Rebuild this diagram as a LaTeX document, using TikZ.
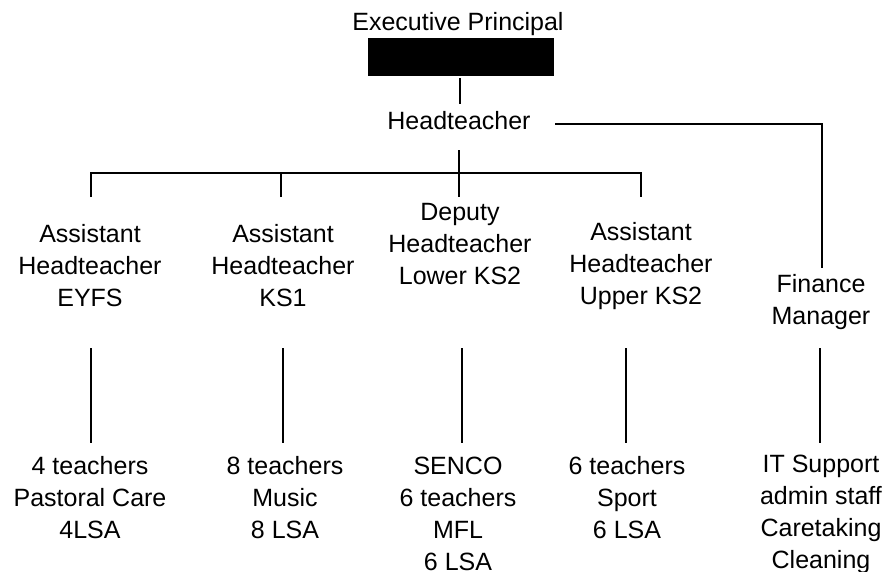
\documentclass[tikz,border=0pt]{standalone}
\usepackage{fontspec}
\setmainfont{Liberation Sans}
\begin{document}
\begin{tikzpicture}[x=1pt,y=-1pt,
  lbl/.style={align=center,inner sep=0pt,font=\fontsize{25}{32}\selectfont},
  conn/.style={line width=1.6pt,black}]
\useasboundingbox[fill=white] (0,0) rectangle (892,571);
% nodes
\node[lbl] (ep) at (458,24) {Executive Principal};
\node[fill=black,inner sep=0pt,minimum width=186pt,minimum height=38pt] (red) at (461,57) {};
\node[lbl] (ht) at (459,121) {Headteacher};
\node[lbl] (a1) at (90,266) {Assistant\\Headteacher\\EYFS};
\node[lbl] (a2) at (283,266) {Assistant\\Headteacher\\KS1};
\node[lbl] (dp) at (460,244) {Deputy\\Headteacher\\Lower KS2};
\node[lbl] (a4) at (641,266) {Assistant\\Headteacher\\Upper KS2};
\node[lbl] (fm) at (821,302) {Finance\\Manager};
\node[lbl] (b1) at (90,498) {4 teachers\\Pastoral Care\\4LSA};
\node[lbl] (b2) at (285,498) {8 teachers\\Music\\8 LSA};
\node[lbl] (b3) at (458,514) {SENCO\\6 teachers\\MFL\\6 LSA};
\node[lbl] (b4) at (627,498) {6 teachers\\Sport\\6 LSA};
\node[lbl] (b5) at (821,514) {IT Support\\admin staff\\Caretaking\\Cleaning};
% coordinates
\coordinate (redb) at (460,78);
\coordinate (htt) at (460,104);
\coordinate (htb) at (459,150);
\coordinate (bar) at (459,173);
\coordinate (htr) at (555,124);
\coordinate (fmc) at (822,124);
\coordinate (fmt) at (822,268);
\coordinate (a1t) at (91,197);
\coordinate (a2t) at (281,197);
\coordinate (dpt) at (459,197);
\coordinate (a4t) at (641,197);
\coordinate (a1b) at (91,348);
\coordinate (a2b) at (283,348);
\coordinate (dpb) at (462,348);
\coordinate (a4b) at (626,348);
\coordinate (fmb) at (820,348);
\coordinate (b1t) at (91,443);
\coordinate (b2t) at (283,443);
\coordinate (b3t) at (462,443);
\coordinate (b4t) at (626,443);
\coordinate (b5t) at (820,443);
% connectors
\draw[conn] (redb) -- (htt);
\draw[conn] (htb) -- (dpt);
\draw[conn] (a1t) |- (bar) -| (a4t);
\draw[conn] (a2t) -- (a2t |- bar);
\draw[conn] (htr) -- (fmc) -- (fmt);
\draw[conn] (a1b) -- (b1t);
\draw[conn] (a2b) -- (b2t);
\draw[conn] (dpb) -- (b3t);
\draw[conn] (a4b) -- (b4t);
\draw[conn] (fmb) -- (b5t);
\end{tikzpicture}
\end{document}
